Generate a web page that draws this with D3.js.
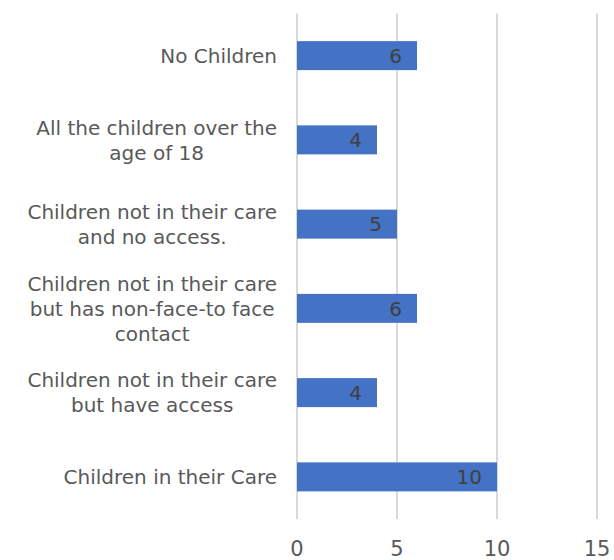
<!DOCTYPE html>
<html><head><meta charset="utf-8">
<script src="https://cdn.jsdelivr.net/npm/d3@7"></script>
<style>body{margin:0;background:#fff}</style>
</head><body>
<script>
// categories top to bottom, "\n" marks the line breaks of the axis labels
var categories = [
    "No Children",
    "All the children over the\nage of 18",
    "Children not in their care\nand no access.",
    "Children not in their care\nbut has non-face-to face\ncontact",
    "Children not in their care\nbut have access",
    "Children in their Care"
];
var values = [6, 4, 5, 6, 4, 10];
var xTicks = [0, 5, 10, 15];

var w = 614, h = 560;
var font = "DejaVu Sans";

var svg = d3.select("body").append("svg")
    .attr("width", w)
    .attr("height", h);

var x = d3.scaleLinear().domain([0, 15]).range([297, 597]);
var y = d3.scaleBand().domain(categories).range([13.5, 519])
    .paddingInner(0.656).paddingOuter(0.328);

// gridlines
svg.selectAll(".grid")
    .data(xTicks)
    .enter()
    .append("line")
    .attr("x1", function(d) { return x(d); })
    .attr("x2", function(d) { return x(d); })
    .attr("y1", 13.5)
    .attr("y2", 519)
    .attr("stroke", "#d9d9d9")
    .attr("stroke-width", 2);

// tick labels
svg.selectAll(".tick")
    .data(xTicks)
    .enter()
    .append("text")
    .attr("x", function(d) { return x(d); })
    .attr("y", 556)
    .attr("text-anchor", "middle")
    .style("font-family", font)
    .style("font-size", "21px")
    .attr("fill", "#595959")
    .text(function(d) { return d; });

// bars
svg.selectAll(".bar")
    .data(values)
    .enter()
    .append("rect")
    .attr("x", x(0))
    .attr("y", function(d, i) { return y(categories[i]); })
    .attr("width", function(d) { return x(d) - x(0); })
    .attr("height", y.bandwidth())
    .attr("fill", "#4472c4");

// value labels, inside end of the bar
svg.selectAll(".val")
    .data(values)
    .enter()
    .append("text")
    .attr("x", function(d) { return x(d) - 15; })
    .attr("y", function(d, i) { return y(categories[i]) + y.bandwidth() / 2; })
    .attr("dy", "0.36em")
    .attr("text-anchor", "end")
    .style("font-family", font)
    .style("font-size", "20px")
    .attr("fill", "#404040")
    .text(function(d) { return d; });

// category labels, lines centred on each other, block right-aligned
var lineH = 25;
categories.forEach(function(c) {
    var lines = c.split("\n");
    var cy = y(c) + y.bandwidth() / 2;
    var g = svg.append("g");
    var ts = g.selectAll("text")
        .data(lines)
        .enter()
        .append("text")
        .attr("y", function(d, i) { return cy + (i - (lines.length - 1) / 2) * lineH; })
        .attr("dy", "0.36em")
        .attr("text-anchor", "middle")
        .style("font-family", font)
        .style("font-size", "20px")
        .attr("fill", "#595959")
        .text(function(d) { return d; });
    var maxW = d3.max(ts.nodes(), function(n) { return n.getComputedTextLength(); });
    ts.attr("x", 277 - maxW / 2);
});
</script>
</body></html>
